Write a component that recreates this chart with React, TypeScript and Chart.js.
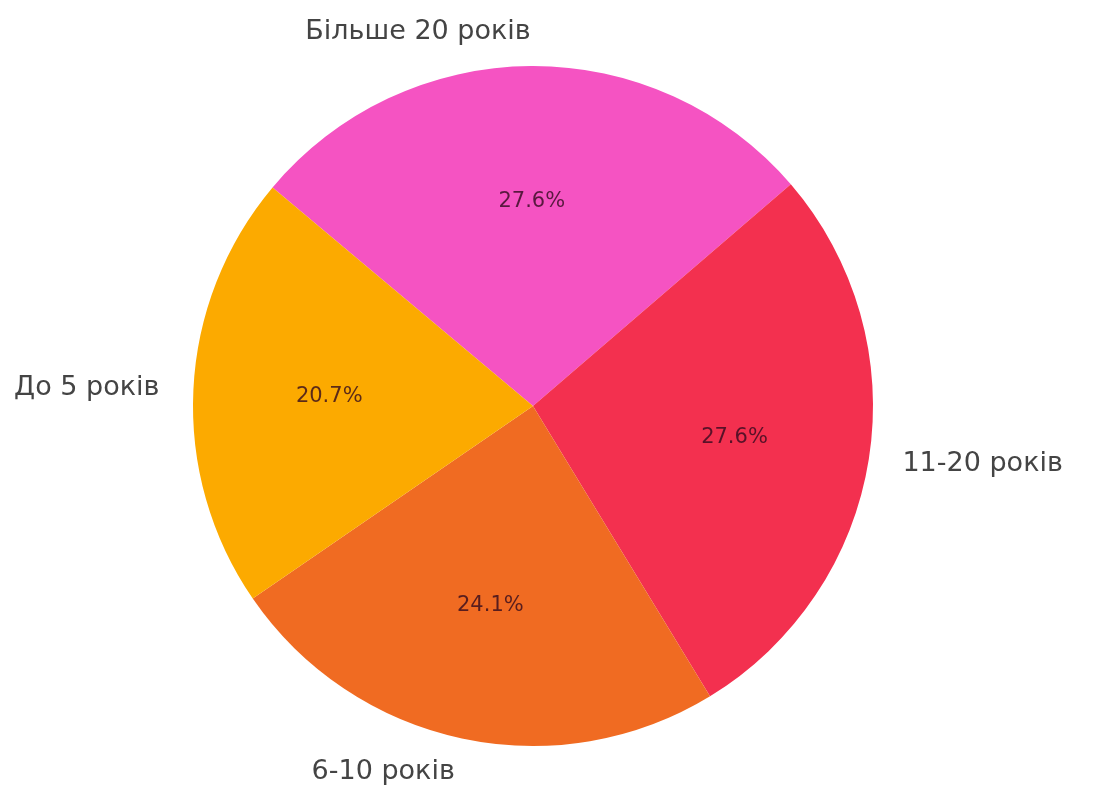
import React, { useEffect, useRef } from "react";
import { Chart, registerables } from "chart.js";

Chart.register(...registerables);

const categories = ["Більше 20 років", "11-20 років", "6-10 років", "До 5 років"];
const counts = [8, 8, 7, 6];
const sliceColors = ["#F553C2", "#F3304F", "#F06B22", "#FCAA00"];

const labelPlugin = {
  id: "pieLabels",
  afterDatasetsDraw(chart: any) {
    const ctx = chart.ctx;
    const meta = chart.getDatasetMeta(0);
    const data = chart.data.datasets[0].data as number[];
    const total = data.reduce((a, b) => a + b, 0);
    ctx.save();
    meta.data.forEach((arc: any, i: number) => {
      const { x, y, startAngle, endAngle, outerRadius } = arc.getProps(
        ["x", "y", "startAngle", "endAngle", "outerRadius"],
        true
      );
      const mid = (startAngle + endAngle) / 2;
      // category label
      const lx = x + 1.1 * outerRadius * Math.cos(mid);
      const ly = y + 1.1 * outerRadius * Math.sin(mid);
      ctx.font = '27px "DejaVu Sans", sans-serif';
      ctx.fillStyle = "#444444";
      ctx.textAlign = lx > x ? "left" : "right";
      ctx.textBaseline = "middle";
      ctx.fillText(chart.data.labels[i], lx, ly);
      // percent label
      const px = x + 0.6 * outerRadius * Math.cos(mid);
      const py = y + 0.6 * outerRadius * Math.sin(mid);
      ctx.font = '21px "DejaVu Sans", sans-serif';
      ctx.fillStyle = "rgba(50,10,30,0.8)";
      ctx.textAlign = "center";
      ctx.fillText(((data[i] / total) * 100).toFixed(1) + "%", px, py);
    });
    ctx.restore();
  },
};

export default function App() {
  const ref = useRef<HTMLCanvasElement>(null);
  useEffect(() => {
    if (!ref.current) return;
    const chart = new Chart(ref.current, {
      type: "pie",
      data: {
        labels: categories,
        datasets: [
          {
            data: counts,
            backgroundColor: sliceColors,
            borderWidth: 0,
          },
        ],
      },
      options: {
        responsive: false,
        animation: false,
        rotation: -50,
        layout: { padding: { left: 193, right: 231, top: 66, bottom: 48 } },
        plugins: {
          legend: { display: false },
          tooltip: { enabled: false },
        },
      },
      plugins: [labelPlugin],
    });
    return () => chart.destroy();
  }, []);
  return (
    <div style={{ position: "fixed", left: 0, top: 0, width: 1104, height: 794, background: "#fff" }}>
      <canvas ref={ref} width={1104} height={794} />
    </div>
  );
}
